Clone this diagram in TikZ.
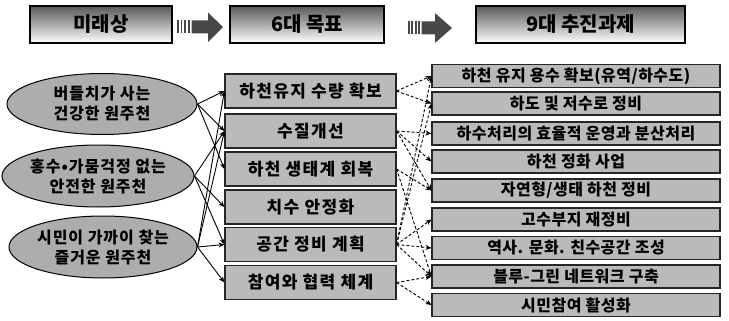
\documentclass[tikz,border=0pt]{standalone}
\usepackage{fontspec}
\newfontfamily\kr{Noto Sans CJK KR}
\usetikzlibrary{shapes.geometric,arrows.meta}
\begin{document}
\begin{tikzpicture}[x=1pt,y=-1pt,
  hdr/.style={rectangle,draw=black,line width=1.2pt,top color=black!65,middle color=black!28,bottom color=white,
    minimum height=37pt,inner sep=0pt,font=\kr\bfseries\fontsize{20}{22}\selectfont},
  ell/.style={ellipse,draw=black,line width=1pt,fill=black!32,inner sep=0pt,align=center,
    minimum width=190pt,minimum height=61pt,
    font=\kr\bfseries\fontsize{16}{20}\selectfont\addfontfeature{LetterSpace=6}},
  goal/.style={rectangle,draw=black!85,line width=1.1pt,fill=black!27,minimum width=171pt,minimum height=34pt,
    inner sep=0pt,font=\kr\bfseries\fontsize{17}{19}\selectfont\addfontfeature{LetterSpace=8}},
  task/.style={rectangle,draw=black!85,line width=1.1pt,fill=black!27,minimum width=288pt,minimum height=23pt,
    inner sep=0pt,font=\kr\bfseries\fontsize{16}{18}\selectfont\addfontfeature{LetterSpace=3}},
  solidarr/.style={-{Stealth[length=6pt,width=5pt]},line width=0.9pt},
  dasharr/.style={-{Stealth[length=6pt,width=5pt]},line width=0.9pt,dash pattern=on 3pt off 2pt},
  blockarrow/.style={fill=black!72,draw=none}
]
\useasboundingbox (0,0) rectangle (729,321);

% header boxes
\node[hdr,minimum width=142pt] (h1) at (101,24.5) {미래상};
\node[hdr,minimum width=154pt] (h2) at (307,24.5) {6대 목표};
\node[hdr,minimum width=209pt] (h3) at (580.5,24.5) {9대 추진과제};

% block arrows
\foreach \sx in {177,180.6,184.2,187.8}{\fill[black!72] (\sx,20.5) rectangle (\sx+1.8,33.5);}
\fill[blockarrow] (191.5,20.5) -- (208,20.5) -- (208,12.5) -- (223,27) -- (208,42) -- (208,33.5) -- (191.5,33.5) -- cycle;
\foreach \sx in {408,411.4,414.8,418.2}{\fill[black!72] (\sx,21.5) rectangle (\sx+1.7,34.5);}
\fill[blockarrow] (421.5,21.5) -- (435,21.5) -- (435,13) -- (452,28) -- (435,43) -- (435,34.5) -- (421.5,34.5) -- cycle;

% visions
\node[ell] (e1) at (102,104) {버들치가 사는\\건강한 원주천};
\node[ell,minimum width=192pt,minimum height=62pt] (e2) at (98,176) {홍수•가뭄걱정 없는\\안전한 원주천};
\node[ell,minimum width=188pt,minimum height=62pt] (e3) at (103,247) {시민이 가까이 찾는\\즐거운 원주천};

% goals
\node[goal] (b1) at (310.5,91) {하천유지 수량 확보};
\node[goal] (b2) at (310.5,131) {수질개선};
\node[goal] (b3) at (310.5,169) {하천 생태계 회복};
\node[goal] (b4) at (310.5,207) {치수 안정화};
\node[goal] (b5) at (310.5,244.5) {공간 정비 계획};
\node[goal] (b6) at (310.5,282.5) {참여와 협력 체계};

% tasks
\node[task] (r1) at (576,76) {하천 유지 용수 확보(유역/하수도)};
\node[task] (r2) at (576,103.5) {하도 및 저수로 정비};
\node[task] (r3) at (576,133.5) {하수처리의 효율적 운영과 분산처리};
\node[task] (r4) at (576,161.5) {하천 정화 사업};
\node[task] (r5) at (576,190.5) {자연형/생태 하천 정비};
\node[task] (r6) at (576,219.5) {고수부지 재정비};
\node[task] (r7) at (576,248) {역사. 문화. 친수공간 조성};
\node[task] (r8) at (576,276.5) {블루-그린 네트워크 구축};
\node[task] (r9) at (576,305) {시민참여 활성화};

% vision -> goal
\foreach \e/\b in {e1/b1,e1/b2,e1/b3,e2/b2,e2/b4,e2/b5,e3/b1,e3/b2,e3/b5,e3/b6}
  \draw[solidarr] (\e.east) -- (\b.west);

% goal -> task
\foreach \b/\r in {b1/r1,b1/r2,b2/r3,b2/r4,b2/r5,b3/r5,b3/r8,b5/r1,b5/r2,b5/r6,b5/r7,b5/r8,b6/r8,b6/r9}
  \draw[dasharr] (\b.east) -- (\r.west);
\end{tikzpicture}
\end{document}
